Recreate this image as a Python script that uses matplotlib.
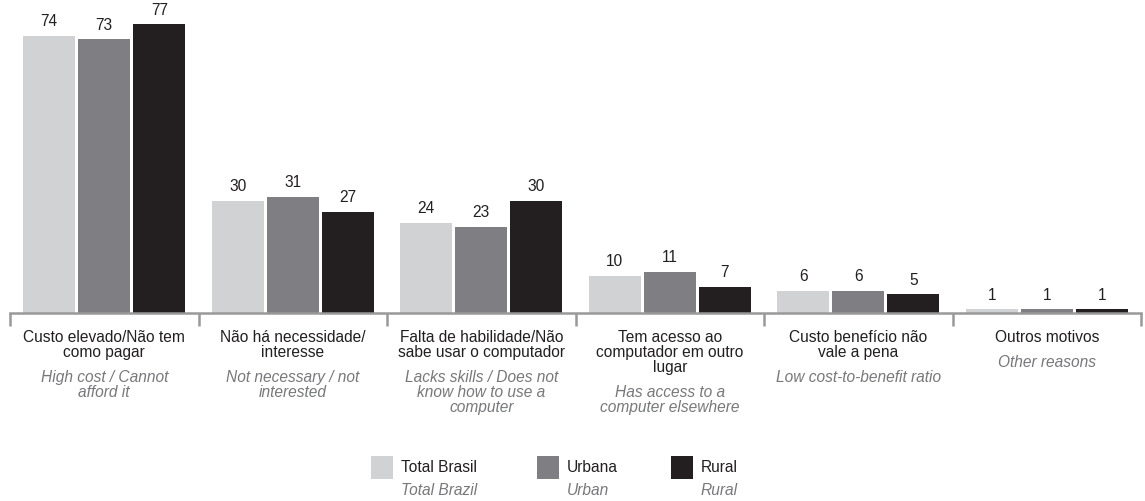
import matplotlib
matplotlib.use("Agg")
import matplotlib.pyplot as plt
from matplotlib.patches import Rectangle
import numpy as np

plt.rcParams['font.family'] = ['Liberation Sans', 'DejaVu Sans']

categories_pt = ["Custo elevado/Não tem\ncomo pagar",
                 "Não há necessidade/\ninteresse",
                 "Falta de habilidade/Não\nsabe usar o computador",
                 "Tem acesso ao\ncomputador em outro\nlugar",
                 "Custo benefício não\nvale a pena",
                 "Outros motivos"]
categories_en = ["High cost / Cannot\nafford it",
                 "Not necessary / not\ninterested",
                 "Lacks skills / Does not\nknow how to use a\ncomputer",
                 "Has access to a\ncomputer elsewhere",
                 "Low cost-to-benefit ratio",
                 "Other reasons"]
series_pt = ["Total Brasil", "Urbana", "Rural"]
series_en = ["Total Brazil", "Urban", "Rural"]
total = [74, 30, 24, 10, 6, 1]
urbana = [73, 31, 23, 11, 6, 1]
rural = [77, 27, 30, 7, 5, 1]

colors = ["#d1d2d4", "#7f7f83", "#231f20"]
FS = 11.2

W, H = 1145, 502
fig = plt.figure(figsize=(W / 100, H / 100), dpi=100)
ax_left, ax_right, ax_top, ax_base = 10, 1141, 14, 314
ax = fig.add_axes([ax_left / W, (H - ax_base) / H, (ax_right - ax_left) / W, (ax_base - ax_top) / H])

x = np.arange(len(categories_pt))
bw = 0.276
off = 0.292
for i, vals in enumerate([total, urbana, rural]):
    pos = x + (i - 1) * off
    ax.bar(pos, vals, width=bw, color=colors[i], zorder=2)
    for p, v in zip(pos, vals):
        ax.text(p, v + 2.0, str(v), ha='center', va='bottom', fontsize=FS, color='#231f20')

ax.set_xlim(-0.5, len(categories_pt) - 0.5)
ax.set_ylim(0, 80)
for s in ['top', 'right', 'left']:
    ax.spines[s].set_visible(False)
ax.spines['bottom'].set_color('#999999')
ax.spines['bottom'].set_linewidth(1.8)
ax.set_yticks([])
ax.set_xticks([])
ax.set_xticks(np.arange(-0.5, len(categories_pt)), minor=True)
ax.tick_params(axis='x', which='minor', length=9, width=1.8, color='#999999', direction='out')
ax.tick_params(axis='x', which='minor', labelbottom=False)

ppx = ax_base - ax_top  # pixels per axes unit
trans = ax.get_xaxis_transform()
line_px = 15
for xi, pt, en in zip(x, categories_pt, categories_en):
    top_pt = 330
    ax.text(xi, (ax_base - top_pt) / ppx, pt, transform=trans, ha='center', va='top',
            fontsize=FS, linespacing=1.02, color='#231f20')
    n = pt.count('\n') + 1
    top_en = top_pt + n * line_px + 10
    ax.text(xi, (ax_base - top_en) / ppx, en, transform=trans, ha='center', va='top',
            fontsize=FS, linespacing=1.02, color='#77787b', style='italic')

# legend
leg_x = [371, 537, 671]
for lx, c, sp, se in zip(leg_x, colors, series_pt, series_en):
    fig.add_artist(Rectangle((lx / W, (H - 480) / H), 22 / W, 23 / H,
                             transform=fig.transFigure, color=c, lw=0))
    fig.text((lx + 30) / W, (H - 468) / H, sp, ha='left', va='center', fontsize=FS, color='#231f20')
    fig.text((lx + 30) / W, (H - 491) / H, se, ha='left', va='center', fontsize=FS,
             color='#77787b', style='italic')

fig.savefig("out.png", dpi=100, facecolor='white')
